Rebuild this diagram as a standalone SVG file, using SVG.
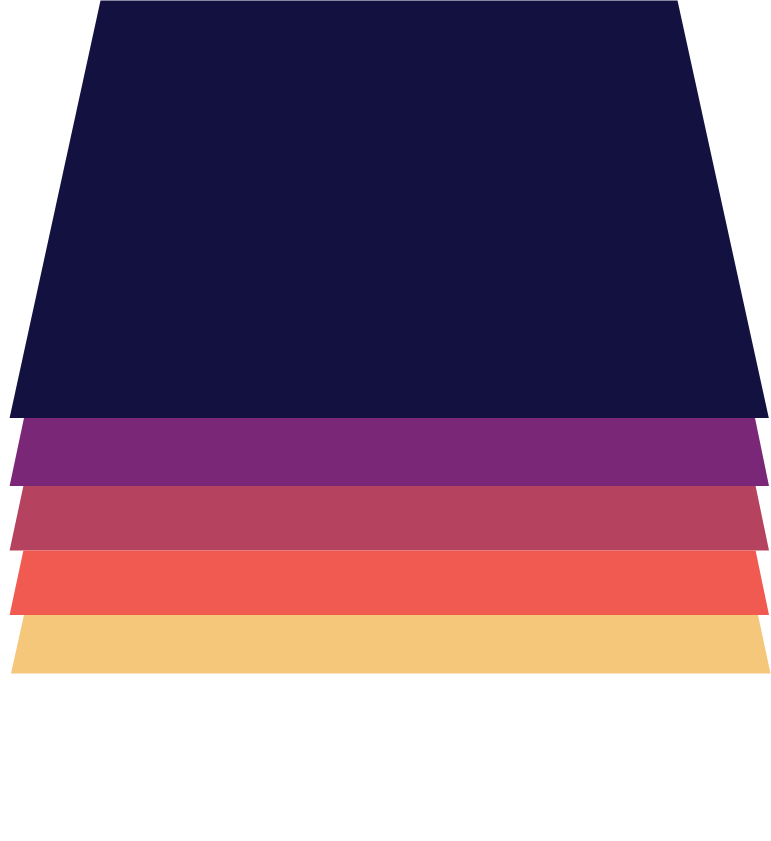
<svg xmlns="http://www.w3.org/2000/svg" width="771" height="841" viewBox="0 0 771 841">
<style>
.layer{stroke:none}
</style>
<rect width="771" height="841" fill="#ffffff"/>
<g id="layer-1"><polygon class="layer" fill="#131140" points="100.5,0.5 677.5,0.5 768.8,418 9.6,418"/></g>
<g id="layer-2"><polygon class="layer" fill="#7a2777" points="24,418 755,418 769,486 9.6,486"/></g>
<g id="layer-3"><polygon class="layer" fill="#b5425f" points="23.4,486 755.6,486 769,550.5 9.6,550.5"/></g>
<g id="layer-4"><polygon class="layer" fill="#f15a50" points="23.4,550.5 755.6,550.5 769,615 9.6,615"/></g>
<g id="layer-5"><polygon class="layer" fill="#f4c77b" points="24,615 758,615 770.5,673.5 11,673.5"/></g>
<g id="connectors"></g>
</svg>
